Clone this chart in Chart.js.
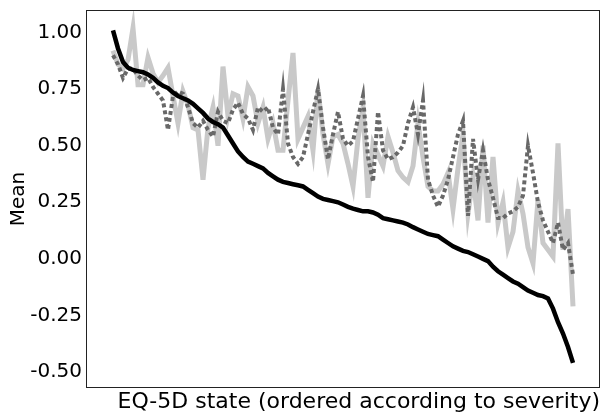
<!DOCTYPE html>
<html>
<head>
<meta charset="utf-8">
<script src="https://cdn.jsdelivr.net/npm/chart.js@4.4.1/dist/chart.umd.min.js"></script>
<style>
  html, body { margin: 0; padding: 0; background: #fff; }
  #wrap { width: 603px; height: 415px; }
</style>
</head>
<body>
<div id="wrap"><canvas id="chart" width="603" height="415"></canvas></div>
<script>
// EQ-5D states ordered by severity; one value per state, same order in every series
const observedMean = [
  1.01, 0.93, 0.87, 0.845, 0.835, 0.83, 0.825, 0.815, 0.80, 0.78,
  0.765, 0.755, 0.735, 0.72, 0.71, 0.70, 0.685, 0.665, 0.645, 0.62,
  0.605, 0.595, 0.58, 0.545, 0.51, 0.475, 0.45, 0.43, 0.42, 0.41,
  0.40, 0.38, 0.365, 0.35, 0.34, 0.335, 0.33, 0.325, 0.32, 0.305,
  0.29, 0.275, 0.265, 0.26, 0.255, 0.25, 0.24, 0.23, 0.222, 0.216,
  0.21, 0.21, 0.205, 0.195, 0.18, 0.175, 0.17, 0.165, 0.16, 0.152,
  0.14, 0.13, 0.12, 0.11, 0.105, 0.10, 0.085, 0.07, 0.055, 0.045,
  0.035, 0.03, 0.02, 0.01, 0.0, -0.01, -0.035, -0.055, -0.07, -0.085,
  -0.10, -0.11, -0.125, -0.14, -0.15, -0.16, -0.165, -0.175, -0.22, -0.28,
  -0.33, -0.39, -0.46
];

const modelA = [
  0.90, 0.86, 0.80, 0.84, 0.84, 0.81, 0.79, 0.80, 0.76, 0.73,
  0.70, 0.57, 0.72, 0.74, 0.73, 0.67, 0.60, 0.58, 0.61, 0.57,
  0.54, 0.65, 0.61, 0.60, 0.66, 0.69, 0.64, 0.62, 0.57, 0.67,
  0.65, 0.67, 0.58, 0.55, 0.75, 0.51, 0.45, 0.42, 0.45, 0.55,
  0.65, 0.75, 0.58, 0.44, 0.55, 0.65, 0.53, 0.50, 0.52, 0.62,
  0.72, 0.45, 0.34, 0.65, 0.48, 0.44, 0.45, 0.47, 0.50, 0.60,
  0.67, 0.55, 0.70, 0.35, 0.28, 0.23, 0.28, 0.35, 0.45, 0.55,
  0.61, 0.19, 0.53, 0.35, 0.48, 0.35, 0.27, 0.18, 0.18, 0.20,
  0.21, 0.23, 0.28, 0.50, 0.38, 0.25, 0.17, 0.12, 0.07, 0.16,
  0.04, 0.07, -0.07
];

const modelB = [
  0.92, 0.86, 0.84, 0.88, 1.02, 0.77, 0.77, 0.89, 0.82, 0.78,
  0.81, 0.845, 0.72, 0.60, 0.74, 0.68, 0.58, 0.57, 0.35, 0.58,
  0.67, 0.50, 0.85, 0.63, 0.73, 0.72, 0.62, 0.76, 0.72, 0.60,
  0.67, 0.53, 0.60, 0.48, 0.48, 0.70, 0.91, 0.53, 0.58, 0.63,
  0.48, 0.75, 0.55, 0.42, 0.54, 0.55, 0.51, 0.42, 0.32, 0.53,
  0.67, 0.27, 0.51, 0.46, 0.41, 0.54, 0.47, 0.39, 0.36, 0.34,
  0.41, 0.60, 0.45, 0.32, 0.30, 0.30, 0.33, 0.38, 0.22, 0.40,
  0.55, 0.20, 0.36, 0.17, 0.50, 0.16, 0.45, 0.16, 0.25, 0.05,
  0.12, 0.30, 0.20, 0.05, -0.02, 0.26, 0.07, 0.04, 0.01, 0.51,
  0.04, 0.22, -0.21
];

const yTicks = [-0.5, -0.25, 0, 0.25, 0.5, 0.75, 1.0];

const toPoints = (arr) => arr.map((v, i) => ({ x: i, y: v }));

// box round the plot area
const frame = {
  id: "frame",
  afterDraw(chart) {
    const { ctx, chartArea: a } = chart;
    ctx.save();
    ctx.strokeStyle = "#222";
    ctx.lineWidth = 1;
    ctx.strokeRect(a.left + 0.5, a.top + 0.5, a.right - a.left - 1, a.bottom - a.top - 1);
    ctx.restore();
  },
};

const font = "'DejaVu Sans', 'Liberation Sans', Arial, sans-serif";

new Chart(document.getElementById("chart"), {
  type: "line",
  data: {
    datasets: [
      {
        data: toPoints(observedMean),
        borderColor: "#000",
        borderWidth: 4.5,
      },
      {
        data: toPoints(modelA),
        borderColor: "#686868",
        borderWidth: 4,
        borderDash: [4, 3],
      },
      {
        data: toPoints(modelB),
        borderColor: "#c9c9c9",
        borderWidth: 5,
      },
    ],
  },
  options: {
    responsive: false,
    animation: false,
    layout: { padding: { top: 10, right: 3, left: 0, bottom: 0 } },
    elements: { point: { radius: 0 }, line: { tension: 0 } },
    plugins: { legend: { display: false }, tooltip: { enabled: false } },
    scales: {
      x: {
        type: "linear",
        min: -5.4,
        max: 97.4,
        grid: { display: false, drawTicks: false },
        border: { display: false },
        ticks: { display: false },
        title: {
          display: true,
          align: "end",
          text: "EQ-5D state (ordered according to severity)",
          color: "#000",
          font: { family: font, size: 22 },
          padding: { top: 0, bottom: 0 },
        },
        afterFit: (scale) => {
          scale.height = 27;
          scale.paddingLeft = 0;
          scale.paddingRight = 0;
        },
      },
      y: {
        min: -0.571,
        max: 1.10,
        grid: { display: false, drawTicks: false },
        border: { display: false },
        afterBuildTicks: (scale) => { scale.ticks = yTicks.map((v) => ({ value: v })); },
        ticks: {
          color: "#000",
          padding: 4,
          font: { family: font, size: 20 },
          callback: (v) => v.toFixed(2),
        },
        title: {
          display: true,
          text: "Mean",
          color: "#000",
          font: { family: font, size: 20 },
          padding: { top: 7, bottom: 0 },
        },
        afterFit: (scale) => {
          scale.width = 86;
          scale.paddingTop = 0;
          scale.paddingBottom = 0;
        },
      },
    },
  },
  plugins: [frame],
});
</script>
</body>
</html>
